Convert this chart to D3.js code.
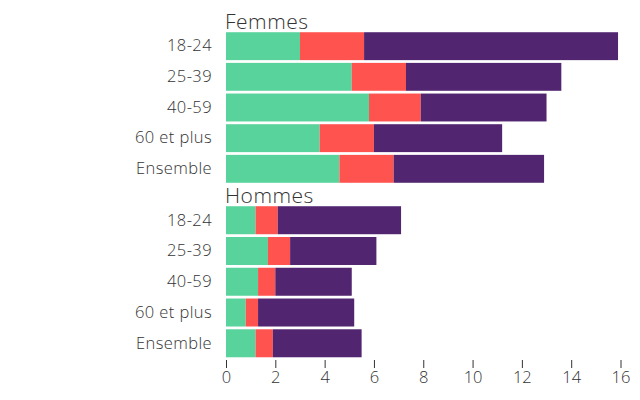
<!DOCTYPE html>
<html><head><meta charset="utf-8">
<script src="https://cdn.jsdelivr.net/npm/d3@7"></script>
<style>
body{margin:0;background:#fff;}
svg text{font-family:"Open Sans",sans-serif;font-weight:300;fill:#333;}
</style></head>
<body><svg id="c" width="640" height="400"></svg>
<script>
const groups = ["Femmes","Hommes"];
const categories = ["18-24","25-39","40-59","60 et plus","Ensemble"];
const seriesKeys = ["s1","s2","s3"];
const colors = ["#58D39C","#FF5350","#51256F"];
// segment values per group (green, red, purple)
const femmesS1 = [3.0,5.1,5.8,3.8,4.6];
const femmesS2 = [2.6,2.2,2.1,2.2,2.2];
const femmesS3 = [10.3,6.3,5.1,5.2,6.1];
const hommesS1 = [1.2,1.7,1.3,0.8,1.2];
const hommesS2 = [0.9,0.9,0.7,0.5,0.7];
const hommesS3 = [5.0,3.5,3.1,3.9,3.6];
const xTicks = [0,2,4,6,8,10,12,14,16];

const svg = d3.select("#c");
const x = d3.scaleLinear().domain([0,16]).range([226,620.5]);

function panel(name, s1, s2, s3, top, bottom){
  const rows = categories.map((c,i)=>({cat:c,s1:s1[i],s2:s2[i],s3:s3[i]}));
  const y = d3.scaleBand().domain(categories).range([top,bottom]).paddingInner(0.09).paddingOuter(0.04);
  const stacked = d3.stack().keys(seriesKeys)(rows);
  const g = svg.append("g");
  g.selectAll("g.s").data(stacked).join("g").attr("fill",(d,i)=>colors[i])
    .selectAll("rect").data(d=>d).join("rect")
    .attr("x",d=>x(d[0])).attr("width",d=>x(d[1])-x(d[0]))
    .attr("y",d=>y(d.data.cat)).attr("height",y.bandwidth());
  const ax = g.append("g").attr("transform","translate(212,0)")
    .call(d3.axisLeft(y).tickSize(0).tickPadding(0));
  ax.select(".domain").remove();
  ax.selectAll("text").attr("font-size",16.5).attr("letter-spacing","0.4px").attr("fill","#333");
  g.append("text").attr("x",225).attr("y",top-2).attr("font-size",21).attr("letter-spacing","0.5px").text(name);
}
panel(groups[0], femmesS1, femmesS2, femmesS3, 31, 184);
panel(groups[1], hommesS1, hommesS2, hommesS3, 205, 358.5);

const xa = svg.append("g").attr("transform","translate(0,360)")
  .call(d3.axisBottom(x).tickValues(xTicks).tickSize(8).tickPadding(3));
xa.select(".domain").remove();
xa.selectAll("line").attr("stroke","#333");
xa.selectAll("text").attr("font-size",16.5).attr("fill","#333");
</script></body></html>
